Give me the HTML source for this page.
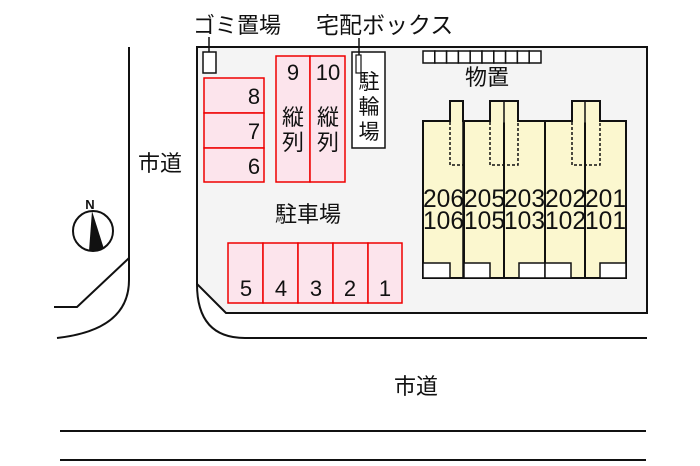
<!DOCTYPE html>
<html><head><meta charset="utf-8"><style>
html,body{margin:0;padding:0;background:#fff;}
svg{display:block;}
text{font-family:"Liberation Sans","Noto Sans CJK JP",sans-serif;fill:#111;}
</style></head><body>
<svg width="700" height="466" viewBox="0 0 700 466" xmlns="http://www.w3.org/2000/svg">
<path d="M129,47 L129,280 Q129,330 57,338" fill="none" stroke="#111" stroke-width="2"/>
<path d="M129,258 L77,307 L54,307" fill="none" stroke="#111" stroke-width="2"/>
<path d="M197,47 L647,47 L647,313 L226,313 L197,284 Z" fill="#f4f4f4" stroke="#111" stroke-width="2"/>
<path d="M197,284 Q197,338 245,338 L647,338" fill="none" stroke="#111" stroke-width="2"/>
<line x1="60" y1="431" x2="646" y2="431" stroke="#111" stroke-width="2"/>
<line x1="60" y1="460" x2="646" y2="460" stroke="#111" stroke-width="2"/>
<text x="193" y="33" font-size="22">ゴミ置場</text>
<text x="316" y="33" font-size="23">宅配ボックス</text>
<line x1="209" y1="37" x2="209" y2="62" stroke="#111" stroke-width="1.5"/>
<rect x="203" y="52" width="13" height="21" fill="#fff" stroke="#111" stroke-width="1.5"/>
<rect x="352" y="52" width="33" height="96" fill="#fff" stroke="#111" stroke-width="1.5"/>
<line x1="359" y1="38" x2="359" y2="62" stroke="#111" stroke-width="1.5"/>
<rect x="356" y="55" width="5" height="18" fill="#fff" stroke="#111" stroke-width="1.2"/>
<text x="369" y="89" font-size="21" text-anchor="middle">駐</text>
<text x="369" y="114" font-size="21" text-anchor="middle">輪</text>
<text x="369" y="139" font-size="21" text-anchor="middle">場</text>
<g fill="#fce4ec" stroke="#e00" stroke-width="1.5">
<rect x="204" y="78" width="60" height="35"/><rect x="204" y="113" width="60" height="35"/><rect x="204" y="148" width="60" height="34"/>
<rect x="276" y="56" width="34" height="126"/><rect x="310" y="56" width="35" height="126"/>
<rect x="228" y="243" width="35" height="60"/><rect x="263" y="243" width="35" height="60"/><rect x="298" y="243" width="35" height="60"/><rect x="333" y="243" width="35" height="60"/><rect x="368" y="243" width="34" height="60"/>
</g>
<g font-size="22" text-anchor="middle">
<text x="254" y="104">8</text><text x="254" y="139">7</text><text x="254" y="174">6</text>
<text x="293" y="80">9</text><text x="328" y="80">10</text>
<text x="246" y="296">5</text><text x="281" y="296">4</text><text x="316" y="296">3</text><text x="350" y="296">2</text><text x="385" y="296">1</text>
</g>
<g font-size="22" text-anchor="middle">
<text x="293" y="125">縦</text><text x="293" y="150">列</text>
<text x="328" y="125">縦</text><text x="328" y="150">列</text>
<text x="308" y="222">駐車場</text>
<text x="160" y="171">市道</text>
<text x="416" y="394">市道</text>
<text x="487" y="85">物置</text>
</g>
<g fill="#fff" stroke="#111" stroke-width="1.5">
<rect x="423" y="51" width="11.8" height="12"/><rect x="434.8" y="51" width="11.8" height="12"/><rect x="446.6" y="51" width="11.8" height="12"/><rect x="458.4" y="51" width="11.8" height="12"/><rect x="470.2" y="51" width="11.8" height="12"/><rect x="482" y="51" width="11.8" height="12"/><rect x="493.8" y="51" width="11.8" height="12"/><rect x="505.6" y="51" width="11.8" height="12"/><rect x="517.4" y="51" width="11.8" height="12"/><rect x="529.2" y="51" width="11.8" height="12"/>
</g>
<g fill="#fbf7cf" stroke="#111" stroke-width="2">
<rect x="423" y="121" width="41" height="157"/>
<rect x="464" y="121" width="40" height="157"/>
<rect x="504" y="121" width="41" height="157"/>
<rect x="545" y="121" width="40" height="157"/>
<rect x="585" y="121" width="41" height="157"/>
<path d="M450,122 L450,101 L463,101 L463,122"/>
<path d="M490,122 L490,101 L518,101 L518,122"/>
<path d="M572,122 L572,101 L600,101 L600,122"/>
</g>
<g stroke="#fbf7cf" stroke-width="3">
<line x1="451" y1="121" x2="462" y2="121"/><line x1="491" y1="121" x2="517" y2="121"/><line x1="573" y1="121" x2="599" y2="121"/>
</g>
<g stroke="#111" stroke-width="1.5">
<line x1="504" y1="101" x2="504" y2="278"/><line x1="585" y1="101" x2="585" y2="278"/>
<line x1="463" y1="101" x2="463" y2="278"/>
</g>
<g fill="none" stroke="#111" stroke-width="1.5" stroke-dasharray="3,2">
<path d="M450,122 L450,165 L463,165"/>
<path d="M490,122 L490,165 L518,165 L518,122"/>
<path d="M572,122 L572,165 L600,165 L600,122"/>
</g>
<g fill="#fff" stroke="#111" stroke-width="1.5">
<rect x="423" y="263" width="27" height="15"/><rect x="464" y="263" width="26" height="15"/><rect x="519" y="263" width="26" height="15"/><rect x="545" y="263" width="26" height="15"/><rect x="600" y="263" width="26" height="15"/>
</g>
<g font-size="25">
<text x="423" y="207" textLength="41" lengthAdjust="spacingAndGlyphs">206</text>
<text x="464" y="207" textLength="41" lengthAdjust="spacingAndGlyphs">205</text>
<text x="504" y="207" textLength="41" lengthAdjust="spacingAndGlyphs">203</text>
<text x="545" y="207" textLength="41" lengthAdjust="spacingAndGlyphs">202</text>
<text x="585" y="207" textLength="41" lengthAdjust="spacingAndGlyphs">201</text>
<text x="423" y="229" textLength="41" lengthAdjust="spacingAndGlyphs">106</text>
<text x="464" y="229" textLength="41" lengthAdjust="spacingAndGlyphs">105</text>
<text x="504" y="229" textLength="41" lengthAdjust="spacingAndGlyphs">103</text>
<text x="545" y="229" textLength="41" lengthAdjust="spacingAndGlyphs">102</text>
<text x="585" y="229" textLength="41" lengthAdjust="spacingAndGlyphs">101</text>
</g>
<circle cx="93" cy="231" r="20" fill="#fff" stroke="#111" stroke-width="2"/>
<polygon points="92,211 89,251 104,249" fill="#111"/>
<text x="90" y="209" font-size="13" font-weight="bold" text-anchor="middle">N</text>
</svg>
</body></html>
